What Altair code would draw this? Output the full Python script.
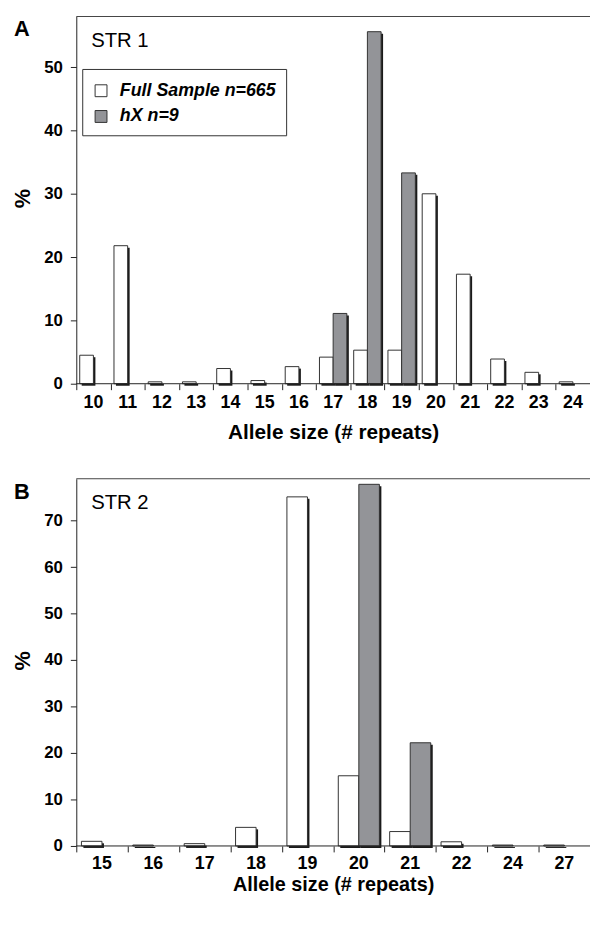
import altair as alt
import pandas as pd

# ---- data ----
str1_alleles = ["10", "11", "12", "13", "14", "15", "16", "17", "18", "19", "20", "21", "22", "23", "24"]
str1_full = [4.5, 21.8, 0.3, 0.3, 2.4, 0.5, 2.7, 4.2, 5.3, 5.3, 30.0, 17.3, 3.9, 1.8, 0.3]
str1_hx = [0, 0, 0, 0, 0, 0, 0, 11.1, 55.6, 33.3, 0, 0, 0, 0, 0]

str2_alleles = ["15", "16", "17", "18", "19", "20", "21", "22", "24", "27"]
str2_full = [1.0, 0.2, 0.5, 4.0, 75.1, 15.1, 3.1, 0.9, 0.2, 0.2]
str2_hx = [0, 0, 0, 0, 0, 77.8, 22.2, 0, 0, 0]

SERIES = ["Full Sample n=665", "hX n=9"]
FILLS = ["#ffffff", "#939498"]
FONT = "Liberation Sans"

W = 519      # plot width
H = 371      # plot height
RANGE = 519  # x-scale range


def long_df(alleles, full, hx):
    rows = []
    for a, f, h in zip(alleles, full, hx):
        if f > 0:
            rows.append({"allele": a, "series": SERIES[0], "pct": f})
        if h > 0:
            rows.append({"allele": a, "series": SERIES[1], "pct": h})
    return pd.DataFrame(rows)


def panel(alleles, full, hx, ymax, yticks, letter, label, lx, ly,
          label_pad, title_pad, title_size):
    df = long_df(alleles, full, hx)
    n = len(alleles)
    step = RANGE / n
    bw = 0.8 * step
    xscale = alt.Scale(domain=alleles, range=[0, RANGE], paddingInner=0.2, paddingOuter=0.1)
    yscale = alt.Scale(domain=[0, ymax], nice=False, zero=True)
    tick_axis = alt.Axis(
        orient="bottom", title=None, domain=False, grid=False, labels=False,
        ticks=True, tickOffset=-step / 2, tickSize=6, tickColor="#222",
    )
    label_axis = alt.Axis(
        orient="bottom", title="Allele size (# repeats)", domain=False, grid=False,
        ticks=False, labelAngle=0,
        labelFontSize=18, labelFontWeight="bold", labelPadding=label_pad, labelColor="black",
        labelFont=FONT, titleFont=FONT,
        titleFontSize=title_size, titleFontWeight="bold", titlePadding=title_pad,
        titleColor="black",
    )
    yaxis = alt.Axis(
        title="%", values=yticks, grid=False, domainColor="#222", tickColor="#222",
        tickSize=6, labelFontSize=17, labelFontWeight="bold", labelPadding=8,
        labelColor="black", labelFont=FONT, titleFont=FONT,
        titleFontSize=22, titleFontWeight="bold", titleColor="black",
        titleX=-54, titleY=H / 2 - 2, titleBaseline="middle", titleAlign="center",
    )
    base = alt.Chart(df)
    shadow = base.mark_bar(fill="#1a1a1a", yOffset=2).encode(
        x=alt.X("allele:N", scale=xscale, axis=tick_axis, sort=None),
        xOffset=alt.XOffset("series:N", scale=alt.Scale(domain=SERIES, range=[2, bw + 2])),
        y=alt.Y("pct:Q", scale=yscale, axis=yaxis),
    )
    bars = base.mark_bar(stroke="#333", strokeWidth=1).encode(
        x=alt.X("allele:N", scale=xscale, axis=label_axis, sort=None),
        xOffset=alt.XOffset("series:N", scale=alt.Scale(domain=SERIES)),
        y=alt.Y("pct:Q", scale=yscale, axis=yaxis),
        fill=alt.Fill(
            "series:N",
            scale=alt.Scale(domain=SERIES, range=FILLS),
            legend=alt.Legend(
                title=" ", titleFontSize=1, titlePadding=2,
                orient="none", legendX=lx, legendY=ly,
                symbolType="square", symbolSize=144, symbolStrokeColor="#333",
                symbolStrokeWidth=1, labelFontSize=18, labelFontStyle="italic",
                labelFontWeight="bold", labelFont=FONT, labelColor="black",
                labelOffset=10, rowPadding=8, padding=10, strokeColor="#333",
                fillColor="white", labelLimit=400,
            ),
        ),
    )
    one = pd.DataFrame({"t": [letter], "s": [label]})
    letter_t = alt.Chart(one).mark_text(
        align="left", baseline="alphabetic", fontSize=22, fontWeight="bold",
        font=FONT, color="black",
    ).encode(text="t:N", x=alt.value(-63), y=alt.value(20))
    label_t = alt.Chart(one).mark_text(
        align="left", baseline="alphabetic", fontSize=20.5, font=FONT, color="black",
    ).encode(text="s:N", x=alt.value(15), y=alt.value(31))
    top_rule = alt.Chart(one).mark_rule(color="#444", strokeWidth=1).encode(
        x=alt.value(0), x2=alt.value(W), y=alt.value(0)
    )
    bottom_rule = alt.Chart(one).mark_rule(color="#222", strokeWidth=1).encode(
        x=alt.value(0), x2=alt.value(W), y=alt.value(H)
    )
    return (
        alt.layer(shadow, bars, top_rule, bottom_rule, letter_t, label_t)
        .resolve_scale(xOffset="independent")
        .resolve_axis(x="independent")
        .properties(width=W, height=H)
    )


pA = panel(str1_alleles, str1_full, str1_hx, 58, [0, 10, 20, 30, 40, 50],
           "A", "STR 1", 6, 53, 10, 10, 21)
pB = panel(str2_alleles, str2_full, str2_hx, 79, [0, 10, 20, 30, 40, 50, 60, 70],
           "B", "STR 2", 8, 46, 9, 2, 20)

chart = alt.vconcat(pA, pB, spacing=35).properties(
    padding={"left": 3, "right": 0, "top": 3, "bottom": 0},
).configure(font=FONT).configure_view(stroke="transparent")

chart.save("out.html", embed_options={"renderer": "svg", "actions": False})
